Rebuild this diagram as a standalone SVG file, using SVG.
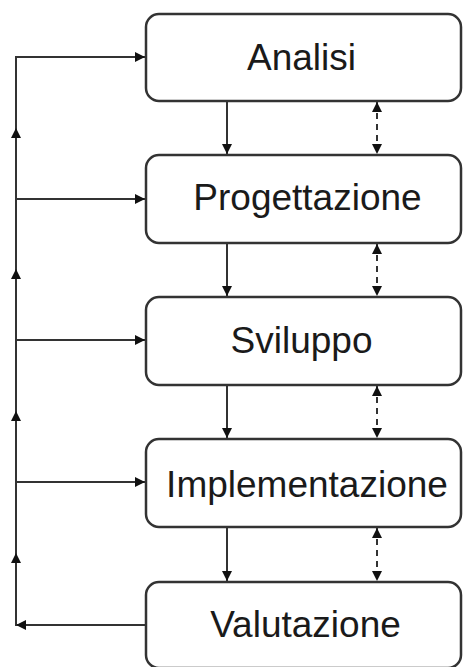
<svg xmlns="http://www.w3.org/2000/svg" width="463" height="667" viewBox="0 0 463 667">
  <style>
    .box { fill: #ffffff; stroke: #333333; stroke-width: 2.5; }
    .lbl { font-family: "Liberation Sans", Arial, sans-serif; font-size: 37px; fill: #1a1a1a; text-anchor: middle; }
    .ln { fill: none; stroke: #333333; stroke-width: 2; }
    .dash { fill: none; stroke: #333333; stroke-width: 2; stroke-dasharray: 6 5; }
  </style>
  <defs>
    <marker id="ah" viewBox="0 0 10 10" refX="10" refY="5" markerWidth="10" markerHeight="10" markerUnits="userSpaceOnUse" orient="auto-start-reverse">
      <path d="M0,0 L10,5 L0,10 Z" fill="#111111"/>
    </marker>
  </defs>
  <rect width="463" height="667" fill="#ffffff"/>

  <g id="connectors">
    <!-- feedback spine on the left -->
    <path class="ln" d="M145,625 H16 V57 H145" marker-end="url(#ah)"/>
    <path class="ln" d="M16,625 H26" marker-start="url(#ah)"/>
    <!-- upward arrowheads along the spine -->
    <path class="ln" d="M16,140 V128" marker-end="url(#ah)"/>
    <path class="ln" d="M16,281 V269" marker-end="url(#ah)"/>
    <path class="ln" d="M16,423 V411" marker-end="url(#ah)"/>
    <path class="ln" d="M16,565 V553" marker-end="url(#ah)"/>
    <!-- branches into each phase -->
    <path class="ln" d="M16,199 H145" marker-end="url(#ah)"/>
    <path class="ln" d="M16,340 H145" marker-end="url(#ah)"/>
    <path class="ln" d="M16,482 H145" marker-end="url(#ah)"/>
    <!-- forward flow between phases -->
    <path class="ln" d="M227,101 V154" marker-end="url(#ah)"/>
    <path class="ln" d="M227,243 V296" marker-end="url(#ah)"/>
    <path class="ln" d="M227,385 V438" marker-end="url(#ah)"/>
    <path class="ln" d="M227,527 V581" marker-end="url(#ah)"/>
    <!-- two-way feedback between phases -->
    <path class="dash" d="M377,102 V154" marker-start="url(#ah)" marker-end="url(#ah)"/>
    <path class="dash" d="M377,244 V296" marker-start="url(#ah)" marker-end="url(#ah)"/>
    <path class="dash" d="M377,386 V438" marker-start="url(#ah)" marker-end="url(#ah)"/>
    <path class="dash" d="M377,528 V581" marker-start="url(#ah)" marker-end="url(#ah)"/>
  </g>

  <g id="analisi">
    <rect class="box" x="146" y="14" width="315" height="87" rx="13"/>
    <text class="lbl" x="301.5" y="70">Analisi</text>
  </g>
  <g id="progettazione">
    <rect class="box" x="146" y="155" width="315" height="88" rx="13"/>
    <text class="lbl" x="307.5" y="210">Progettazione</text>
  </g>
  <g id="sviluppo">
    <rect class="box" x="146" y="297" width="315" height="88" rx="13"/>
    <text class="lbl" x="301.5" y="353">Sviluppo</text>
  </g>
  <g id="implementazione">
    <rect class="box" x="146" y="439" width="315" height="88" rx="13"/>
    <text class="lbl" x="307" y="497">Implementazione</text>
  </g>
  <g id="valutazione">
    <rect class="box" x="146" y="582" width="315" height="86" rx="13"/>
    <text class="lbl" x="305.5" y="637">Valutazione</text>
  </g>
</svg>
